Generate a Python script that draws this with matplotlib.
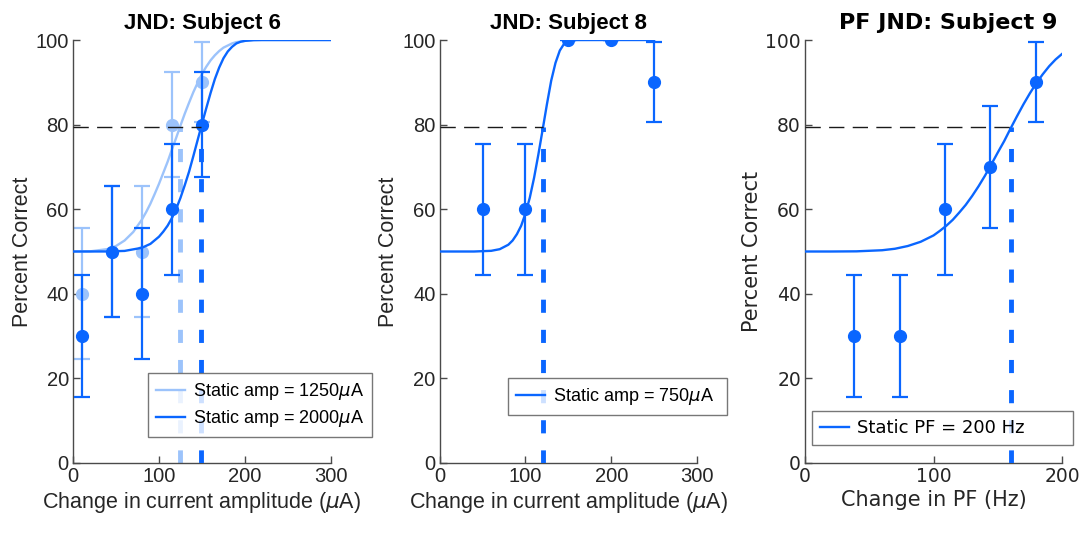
import matplotlib
matplotlib.use("Agg")
import matplotlib.pyplot as plt

# ---------------- data ----------------
# Panel 1: JND Subject 6
s6_x = [10, 45, 80, 115, 150]
s6_dark_y = [30, 50, 40, 60, 80]
s6_dark_lo = [15.5, 34.5, 24.5, 44.5, 67.5]
s6_dark_hi = [44.5, 65.5, 55.5, 75.5, 92.5]
s6_light_y = [40, 50, 50, 80, 90]
s6_light_lo = [24.5, 34.5, 34.5, 67.5, 80.6]
s6_light_hi = [55.5, 65.5, 65.5, 92.5, 99.5]
s6_light_fit_x = [0, 20, 40, 50, 60, 70, 80, 85, 90, 95, 100, 105, 110, 115, 120,
                  125, 130, 135, 140, 145, 150, 155, 160, 165, 170, 175, 180, 185,
                  190, 200, 210, 220, 300]
s6_light_fit = [50, 50.04, 50.57, 51.3, 52.6, 54.6, 57.5, 59.3, 61.3, 63.6, 66.0,
                68.6, 71.2, 74.1, 76.9, 79.8, 82.6, 85.2, 87.7, 89.9, 92.0, 93.7,
                95.2, 96.4, 97.4, 98.2, 98.7, 99.2, 99.5, 99.8, 99.95, 100, 100]
s6_dark_fit_x = [0, 40, 60, 80, 90, 100, 105, 110, 115, 120, 125, 130, 135, 140,
                 145, 150, 155, 160, 165, 170, 175, 180, 185, 190, 195, 200, 210,
                 220, 300]
s6_dark_fit = [50, 50.01, 50.14, 50.87, 51.8, 53.5, 54.7, 56.1, 57.9, 60.1, 62.7,
               65.7, 68.9, 72.6, 76.4, 80.2, 83.9, 87.5, 90.8, 93.5, 95.7, 97.3,
               98.4, 99.2, 99.6, 99.8, 99.98, 100, 100]
s6_thr_light = 124
s6_thr_dark = 149

# Panel 2: JND Subject 8
s8_x = [50, 100, 150, 200, 250]
s8_y = [60, 60, 100, 100, 90]
s8_lo = [44.5, 44.5, 100, 100, 80.6]
s8_hi = [75.5, 75.5, 100, 100, 99.5]
s8_fit_x = [0, 40, 60, 70, 80, 85, 90, 95, 100, 105, 110, 115, 120, 125, 130, 135,
            140, 145, 150, 155, 160, 200, 250]
s8_fit = [50, 50, 50.16, 50.55, 51.6, 52.6, 54.1, 56.1, 59.0, 62.7, 67.4, 72.9,
          78.8, 84.8, 90.4, 94.6, 97.5, 99.1, 99.7, 99.94, 99.99, 100, 100]
s8_thr = 120

# Panel 3: PF JND Subject 9
s9_x = [38, 74, 109, 144, 180]
s9_y = [30, 30, 60, 70, 90]
s9_lo = [15.5, 15.5, 44.5, 55.5, 80.6]
s9_hi = [44.5, 44.5, 75.5, 84.5, 99.5]
s9_fit_x = [0, 20, 40, 60, 70, 80, 90, 100, 105, 110, 115, 120, 125, 130, 135,
            140, 145, 150, 155, 160, 165, 170, 175, 180, 185, 190, 195, 200]
s9_fit = [50, 50, 50.04, 50.3, 50.65, 51.3, 52.3, 53.8, 54.9, 56.1, 57.5, 59.2,
          61.0, 63.1, 65.4, 67.9, 70.6, 73.4, 76.1, 79.1, 82.0, 84.8, 87.4, 89.8,
          91.9, 93.8, 95.4, 96.7]
s9_thr = 160.5

criterion = 79.4

DARK = '#0a66ff'
LIGHT = '#9cc3fb'
AXC = '#4a4a4a'
TXT = '#262626'

fig = plt.figure(figsize=(10.86, 5.40), dpi=100)

def style_axes(ax, xlim, xticks, fam, fs, lfs):
    ax.set_xlim(*xlim)
    ax.set_ylim(0, 100)
    ax.set_xticks(xticks)
    ax.set_yticks([0, 20, 40, 60, 80, 100])
    for s in ['top', 'right']:
        ax.spines[s].set_visible(False)
    for s in ['left', 'bottom']:
        ax.spines[s].set_color(AXC)
        ax.spines[s].set_linewidth(1.0)
    ax.tick_params(direction='in', length=5, width=1.0, color=AXC,
                   labelcolor=TXT, labelsize=fs, pad=3)
    for lab in ax.get_xticklabels() + ax.get_yticklabels():
        lab.set_family(fam)
    ax.set_ylabel('Percent Correct', family=fam, fontsize=lfs, color=TXT, labelpad=2)
    ax.patch.set_visible(False)

def errs(y, lo, hi):
    return [[a - b for a, b in zip(y, lo)], [c - a for a, c in zip(y, hi)]]

vdash = (0, (2.7, 3.5))
hdash = (0, (11, 6))
EB = dict(fmt='o', ms=8.5, elinewidth=1.6, capsize=6, capthick=1.6)

def legend(ax, handles, labels, anchor, fam, size):
    lg = ax.legend(handles, labels, loc='lower left', bbox_to_anchor=anchor,
                   borderaxespad=0, frameon=True, fancybox=False,
                   edgecolor='#555555', handlelength=1.6, borderpad=0.45,
                   labelspacing=0.3, handletextpad=0.45,
                   prop={'family': fam, 'size': size})
    lg.get_frame().set_linewidth(1.0)
    return lg

# ---------- Panel 1 ----------
ax1 = fig.add_axes([0.0672, 0.1426, 0.2376, 0.7833])
ax1.errorbar(s6_x, s6_light_y, yerr=errs(s6_light_y, s6_light_lo, s6_light_hi),
             color=LIGHT, zorder=2, **EB)
l1, = ax1.plot(s6_light_fit_x, s6_light_fit, color=LIGHT, lw=1.7, zorder=2)
ax1.plot([s6_thr_light, s6_thr_light], [0, criterion], color=LIGHT, lw=3.5, ls=vdash, zorder=2)
ax1.errorbar(s6_x, s6_dark_y, yerr=errs(s6_dark_y, s6_dark_lo, s6_dark_hi),
             color=DARK, zorder=3, **EB)
l2, = ax1.plot(s6_dark_fit_x, s6_dark_fit, color=DARK, lw=1.7, zorder=3)
ax1.plot([s6_thr_dark, s6_thr_dark], [0, criterion], color=DARK, lw=3.5, ls=vdash, zorder=3)
ax1.plot([0, s6_thr_dark], [criterion, criterion], color='#1a1a1a', lw=1.0, ls=hdash, zorder=4)
style_axes(ax1, (0, 300), [0, 100, 200, 300], 'Liberation Sans', 14.5, 15.5)
ax1.set_xlabel('Change in current amplitude ($\\mu$A)', family='Liberation Sans',
               fontsize=15.5, color=TXT, labelpad=3)
ax1.set_title('JND: Subject 6', family='Liberation Sans', fontsize=16,
              fontweight='bold', pad=8)
legend(ax1, [l1, l2], ['Static amp = 1250$\\mu$A ', 'Static amp = 2000$\\mu$A '],
       (0.29, 0.0615), 'Liberation Sans', 13)

# ---------- Panel 2 ----------
ax2 = fig.add_axes([0.4049, 0.1426, 0.2369, 0.7833])
ax2.errorbar(s8_x, s8_y, yerr=errs(s8_y, s8_lo, s8_hi), color=DARK, zorder=3, **EB)
l3, = ax2.plot(s8_fit_x, s8_fit, color=DARK, lw=1.7, zorder=3)
ax2.plot([s8_thr, s8_thr], [0, criterion], color=DARK, lw=3.5, ls=vdash, zorder=3)
ax2.plot([0, s8_thr], [criterion, criterion], color='#1a1a1a', lw=1.0, ls=hdash, zorder=4)
style_axes(ax2, (0, 300), [0, 100, 200, 300], 'Liberation Sans', 14.5, 15.5)
ax2.set_xlabel('Change in current amplitude ($\\mu$A)', family='Liberation Sans',
               fontsize=15.5, color=TXT, labelpad=3)
ax2.set_title('JND: Subject 8', family='Liberation Sans', fontsize=16,
              fontweight='bold', pad=8)
legend(ax2, [l3], ['Static amp = 750$\\mu$A  '], (0.265, 0.113), 'Liberation Sans', 13)

# ---------- Panel 3 ----------
ax3 = fig.add_axes([0.7413, 0.1426, 0.2366, 0.7833])
ax3.errorbar(s9_x, s9_y, yerr=errs(s9_y, s9_lo, s9_hi), color=DARK, zorder=3, **EB)
l4, = ax3.plot(s9_fit_x, s9_fit, color=DARK, lw=1.7, zorder=3)
ax3.plot([s9_thr, s9_thr], [0, criterion], color=DARK, lw=3.5, ls=vdash, zorder=3)
ax3.plot([0, s9_thr], [criterion, criterion], color='#1a1a1a', lw=1.0, ls=hdash, zorder=4)
style_axes(ax3, (0, 200), [0, 100, 200], 'DejaVu Sans', 13.5, 15)
ax3.set_xlabel('Change in PF (Hz)', family='DejaVu Sans', fontsize=15, color=TXT, labelpad=3)
ax3.set_title('PF JND: Subject 9', family='DejaVu Sans', fontsize=16,
              fontweight='bold', pad=8, x=0.558)
legend(ax3, [l4], ['Static PF = 200 Hz       '], (0.027, 0.0425), 'DejaVu Sans', 13)

fig.savefig('out.png', dpi=100)
